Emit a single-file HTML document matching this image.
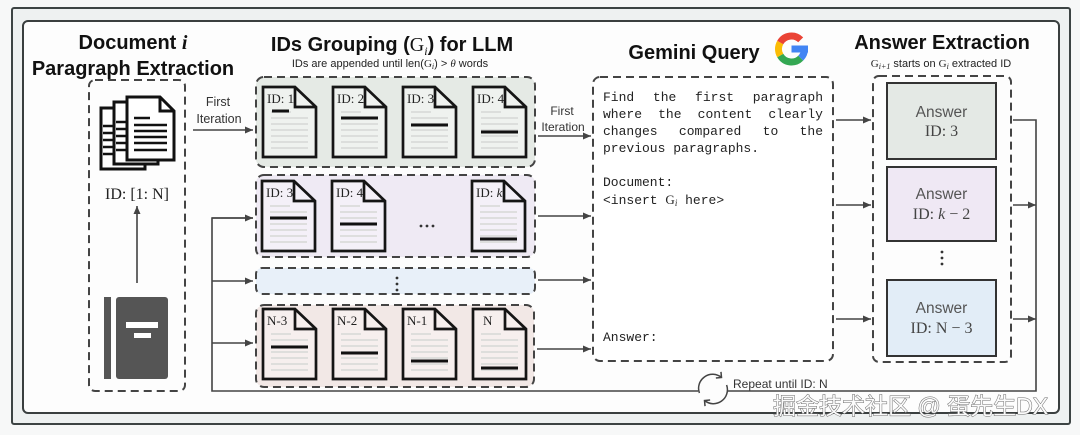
<!DOCTYPE html>
<html><head><meta charset="utf-8"><style>
html,body{margin:0;padding:0;background:#f7f8f8;}
#w{position:relative;width:1080px;height:435px;overflow:hidden;}
svg{position:absolute;left:0;top:0;}
.m{position:absolute;font-family:"Liberation Mono",monospace;font-size:13px;line-height:17px;color:#222;white-space:nowrap;}
.j{width:220px;text-align:justify;text-align-last:justify;white-space:normal;height:17px;}
.sv{font-family:"Liberation Serif",serif;}
</style></head><body><div id="w">
<svg width="1080" height="435" viewBox="0 0 1080 435" xmlns="http://www.w3.org/2000/svg">
<defs>
<marker id="ah" markerUnits="userSpaceOnUse" markerWidth="8" markerHeight="7" refX="8" refY="3.5" orient="auto"><path d="M0,0L8,3.5L0,7Z" fill="#444"/></marker>
<marker id="ch" markerUnits="userSpaceOnUse" markerWidth="10" markerHeight="10" refX="5" refY="5" orient="auto"><path d="M1,1L5,5L1,9" fill="none" stroke="#444" stroke-width="1.5"/></marker>
<g id="gl" stroke="#d6d8d6" stroke-width="1.6">
<line x1="8" y1="25" x2="28" y2="25"/><line x1="8" y1="31" x2="45" y2="31"/><line x1="8" y1="37" x2="45" y2="37"/><line x1="8" y1="43" x2="45" y2="43"/><line x1="8" y1="49" x2="45" y2="49"/><line x1="8" y1="55" x2="45" y2="55"/><line x1="8" y1="61" x2="45" y2="61"/>
</g>
<g id="fr" fill="none" stroke="#151515" stroke-width="2.7"><path d="M0,0H32L53,20V70H0Z"/><path d="M32,0V20H53"/></g>
</defs>
<rect x="12" y="8" width="1058" height="416" rx="2" fill="#eef1f1" stroke="#3d4444" stroke-width="2"/>
<rect x="23" y="21" width="1036" height="392" rx="5" fill="#fdfdfd" stroke="#3a3f3f" stroke-width="2"/>

<g font-family="Liberation Sans, sans-serif" font-weight="bold" font-size="20" fill="#111" text-anchor="middle">
<text x="133" y="49">Document <tspan font-family="Liberation Serif, serif" font-style="italic">i</tspan></text>
<text x="133" y="75">Paragraph Extraction</text>
<text x="392" y="51">IDs Grouping (<tspan font-family="Liberation Serif, serif" font-weight="normal">G</tspan><tspan font-family="Liberation Serif, serif" font-style="italic" font-weight="normal" font-size="12" dy="4">i</tspan><tspan dy="-4">) for LLM</tspan></text>
<text x="694" y="59">Gemini Query</text>
<text x="942" y="49">Answer Extraction</text>
</g>
<g font-family="Liberation Sans, sans-serif" font-size="11" fill="#222" text-anchor="middle">
<text x="390" y="67">IDs are appended until len(<tspan font-family="Liberation Serif, serif">G</tspan><tspan font-family="Liberation Serif, serif" font-style="italic" font-size="8" dy="2">i</tspan><tspan dy="-2">) &gt; </tspan><tspan font-family="Liberation Serif, serif" font-style="italic">θ</tspan> words</text>
<text x="941" y="67"><tspan font-family="Liberation Serif, serif">G</tspan><tspan font-family="Liberation Serif, serif" font-style="italic" font-size="8" dy="2">i+1</tspan><tspan dy="-2"> starts on </tspan><tspan font-family="Liberation Serif, serif">G</tspan><tspan font-family="Liberation Serif, serif" font-style="italic" font-size="8" dy="2">i</tspan><tspan dy="-2"> extracted ID</tspan></text>
</g>

<!-- Google G -->
<g fill="none" stroke-width="7">
<path d="M804.5,49A13,13 0 0 1 800.69,58.19" stroke="#4285F4"/>
<path d="M800.69,58.19A13,13 0 0 1 780.24,55.5" stroke="#34A853"/>
<path d="M780.24,55.5A13,13 0 0 1 780.24,42.5" stroke="#FBBC05"/>
<path d="M780.24,42.5A13,13 0 0 1 800.69,39.81" stroke="#EA4335"/>
</g>
<rect x="791.5" y="45.5" width="16.5" height="7" fill="#4285F4"/>

<!-- left box -->
<rect x="89" y="80" width="96" height="311" rx="6" fill="none" stroke="#444" stroke-width="2" stroke-dasharray="8 5"/>
<g stroke="#111" stroke-width="3" fill="#fff">
<rect x="101" y="108" width="44" height="61"/>
<g stroke-width="2.5"><line x1="103" y1="126" x2="113" y2="126"/><line x1="103" y1="133" x2="113" y2="133"/><line x1="103" y1="140" x2="113" y2="140"/><line x1="103" y1="147" x2="113" y2="147"/><line x1="103" y1="154" x2="113" y2="154"/></g>
<rect x="114" y="102" width="44" height="62"/>
<g stroke-width="2.5"><line x1="116" y1="122" x2="127" y2="122"/><line x1="116" y1="129" x2="127" y2="129"/><line x1="116" y1="136" x2="127" y2="136"/><line x1="116" y1="143" x2="127" y2="143"/><line x1="116" y1="150" x2="127" y2="150"/></g>
<path d="M127,97H160L174,111V160H127Z"/>
<path d="M160,97V111H174" fill="none"/>
<g stroke-width="2.5"><line x1="134" y1="118" x2="150" y2="118"/><line x1="134" y1="125" x2="167" y2="125"/><line x1="134" y1="131" x2="167" y2="131"/><line x1="134" y1="137" x2="167" y2="137"/><line x1="134" y1="143" x2="167" y2="143"/><line x1="134" y1="150" x2="167" y2="150"/></g>
</g>
<text x="137" y="199" font-family="Liberation Serif, serif" font-size="16" fill="#222" text-anchor="middle">ID: [1: N]</text>
<line x1="137" y1="283" x2="137" y2="206" stroke="#444" stroke-width="1.6" marker-end="url(#ah)"/>
<rect x="104" y="297" width="7" height="82" fill="#555"/>
<rect x="116" y="297" width="52" height="82" rx="3" fill="#555"/>
<rect x="126" y="322" width="32" height="6" fill="#fff"/>
<rect x="134" y="333" width="17" height="5" fill="#fff"/>

<g font-family="Liberation Sans, sans-serif" font-size="12.5" fill="#333" text-anchor="middle">
<text x="218" y="106">First</text><text x="219" y="123">Iteration</text>
<text x="562" y="115" font-size="12">First</text><text x="563" y="131" font-size="12">Iteration</text>
</g>

<g stroke="#444" stroke-width="1.6" fill="none">
<line x1="193" y1="130" x2="253" y2="130" marker-end="url(#ah)"/>
<polyline points="253,218 212,218 212,391 1036,391 1036,120 1013,120"/>
<line x1="212" y1="218" x2="253" y2="218" marker-end="url(#ah)"/>
<line x1="212" y1="281" x2="253" y2="281" marker-end="url(#ah)"/>
<line x1="212" y1="343" x2="253" y2="343" marker-end="url(#ah)"/>
<line x1="538" y1="136" x2="591" y2="136" marker-end="url(#ah)"/>
<line x1="538" y1="216" x2="591" y2="216" marker-end="url(#ah)"/>
<line x1="538" y1="280" x2="591" y2="280" marker-end="url(#ah)"/>
<line x1="537" y1="349" x2="591" y2="349" marker-end="url(#ah)"/>
<line x1="836" y1="120" x2="871" y2="120" marker-end="url(#ah)"/>
<line x1="836" y1="205" x2="871" y2="205" marker-end="url(#ah)"/>
<line x1="836" y1="319" x2="871" y2="319" marker-end="url(#ah)"/>
<line x1="1013" y1="205" x2="1036" y2="205" marker-end="url(#ah)"/>
<line x1="1013" y1="319" x2="1036" y2="319" marker-end="url(#ah)"/>
</g>

<!-- groups -->
<g stroke="#444" stroke-width="2" stroke-dasharray="8 5">
<rect x="256" y="77" width="279" height="90" rx="8" fill="#e5eae5"/>
<rect x="256" y="175" width="279" height="82" rx="8" fill="#efeaf4"/>
<rect x="256" y="268" width="279" height="26" rx="6" fill="#e8f0f9"/>
<rect x="256" y="305" width="278" height="82" rx="8" fill="#f2e8e6"/>
</g>
<g fill="#333"><circle cx="397" cy="278" r="1.4"/><circle cx="397" cy="284" r="1.4"/><circle cx="397" cy="290" r="1.4"/>
<circle cx="421" cy="226" r="1.4"/><circle cx="427" cy="226" r="1.4"/><circle cx="433" cy="226" r="1.4"/></g>

<g font-family="Liberation Serif, serif" font-size="13" fill="#222">
<!-- group 1 -->
<g transform="translate(263,87)"><path d="M0,0H32L53,20V70H0Z" fill="#eff2ef"/><use href="#gl"/><line x1="9" y1="24" x2="26" y2="24" stroke="#111" stroke-width="3"/><use href="#fr"/><text x="4" y="16">ID: 1</text></g>
<g transform="translate(333,87)"><path d="M0,0H32L53,20V70H0Z" fill="#eff2ef"/><use href="#gl"/><line x1="8" y1="31" x2="45" y2="31" stroke="#111" stroke-width="3"/><use href="#fr"/><text x="4" y="16">ID: 2</text></g>
<g transform="translate(403,87)"><path d="M0,0H32L53,20V70H0Z" fill="#eff2ef"/><use href="#gl"/><line x1="8" y1="38" x2="45" y2="38" stroke="#111" stroke-width="3"/><use href="#fr"/><text x="4" y="16">ID: 3</text></g>
<g transform="translate(473,87)"><path d="M0,0H32L53,20V70H0Z" fill="#eff2ef"/><use href="#gl"/><line x1="8" y1="45" x2="45" y2="45" stroke="#111" stroke-width="3"/><use href="#fr"/><text x="4" y="16">ID: 4</text></g>
<!-- group 2 -->
<g transform="translate(262,181)"><path d="M0,0H32L53,20V70H0Z" fill="#f4f0f8"/><use href="#gl"/><line x1="8" y1="37" x2="45" y2="37" stroke="#111" stroke-width="3"/><use href="#fr"/><text x="4" y="16">ID: 3</text></g>
<g transform="translate(332,181)"><path d="M0,0H32L53,20V70H0Z" fill="#f4f0f8"/><use href="#gl"/><line x1="8" y1="43" x2="45" y2="43" stroke="#111" stroke-width="3"/><use href="#fr"/><text x="4" y="16">ID: 4</text></g>
<g transform="translate(472,181)"><path d="M0,0H32L53,20V70H0Z" fill="#f4f0f8"/><use href="#gl"/><line x1="8" y1="58" x2="45" y2="58" stroke="#111" stroke-width="3"/><use href="#fr"/><text x="4" y="16">ID: <tspan font-style="italic">k</tspan></text></g>
<!-- group 4 -->
<g transform="translate(263,309)"><path d="M0,0H32L53,20V70H0Z" fill="#f6efee"/><use href="#gl"/><line x1="8" y1="38" x2="45" y2="38" stroke="#111" stroke-width="3"/><use href="#fr"/><text x="4" y="16">N-3</text></g>
<g transform="translate(333,309)"><path d="M0,0H32L53,20V70H0Z" fill="#f6efee"/><use href="#gl"/><line x1="8" y1="44" x2="45" y2="44" stroke="#111" stroke-width="3"/><use href="#fr"/><text x="4" y="16">N-2</text></g>
<g transform="translate(403,309)"><path d="M0,0H32L53,20V70H0Z" fill="#f6efee"/><use href="#gl"/><line x1="8" y1="52" x2="45" y2="52" stroke="#111" stroke-width="3"/><use href="#fr"/><text x="4" y="16">N-1</text></g>
<g transform="translate(473,309)"><path d="M0,0H32L53,20V70H0Z" fill="#f6efee"/><use href="#gl"/><line x1="8" y1="59" x2="45" y2="59" stroke="#111" stroke-width="3"/><use href="#fr"/><text x="10" y="16">N</text></g>
</g>

<!-- gemini box -->
<rect x="593" y="77" width="240" height="284" rx="7" fill="#fff" stroke="#444" stroke-width="2" stroke-dasharray="8 5"/>

<!-- answer box -->
<rect x="873" y="76" width="138" height="286" rx="6" fill="#fdfdfd" stroke="#444" stroke-width="2" stroke-dasharray="8 5"/>
<rect x="887" y="83" width="109" height="76" fill="#e4e9e5" stroke="#333" stroke-width="2"/>
<rect x="887" y="167" width="109" height="74" fill="#efe8f4" stroke="#333" stroke-width="2"/>
<rect x="887" y="280" width="109" height="76" fill="#e2edf7" stroke="#333" stroke-width="2"/>
<g font-family="Liberation Sans, sans-serif" font-size="15.5" fill="#555" text-anchor="middle">
<text x="941.5" y="117">Answer</text><text x="941.5" y="199">Answer</text><text x="941.5" y="313">Answer</text>
</g>
<g font-family="Liberation Serif, serif" font-size="16" fill="#444" text-anchor="middle">
<text x="941.5" y="136">ID: 3</text>
<text x="941.5" y="219">ID: <tspan font-style="italic">k</tspan> − 2</text>
<text x="941.5" y="333">ID: N − 3</text>
</g>
<g fill="#333"><circle cx="942" cy="252" r="1.4"/><circle cx="942" cy="258" r="1.4"/><circle cx="942" cy="264" r="1.4"/></g>

<!-- repeat icon -->
<circle cx="713" cy="389" r="15" fill="#fdfdfd"/>
<g fill="none" stroke="#444" stroke-width="1.5">
<path d="M699.4,393A14,14 0 0 1 721.5,377.5" marker-end="url(#ch)"/>
<path d="M726.6,385A14,14 0 0 1 704.5,400.5" marker-end="url(#ch)"/>
</g>
<text x="733" y="388" font-family="Liberation Sans, sans-serif" font-size="12" fill="#333">Repeat until ID: N</text>

<!-- watermark -->
<text x="773" y="414" font-family="Liberation Sans, 'Noto Sans CJK SC', sans-serif" font-size="23" fill="#fbfbfb" stroke="#6a6a6a" stroke-width="1" paint-order="stroke">掘金技术社区 @ 蛋先生DX</text>
</svg>

<div class="m j" style="left:603px;top:88.5px;">Find the first paragraph</div>
<div class="m j" style="left:603px;top:105.5px;">where the content clearly</div>
<div class="m j" style="left:603px;top:122.5px;">changes compared to the</div>
<div class="m" style="left:603px;top:139.5px;">previous paragraphs.</div>
<div class="m" style="left:603px;top:173.5px;">Document:</div>
<div class="m" style="left:603px;top:190.5px;">&lt;insert <span class="sv">G</span><span class="sv" style="font-style:italic;font-size:9px;vertical-align:-2px;">i</span> here&gt;</div>
<div class="m" style="left:603px;top:328.5px;">Answer:</div>
</div></body></html>
